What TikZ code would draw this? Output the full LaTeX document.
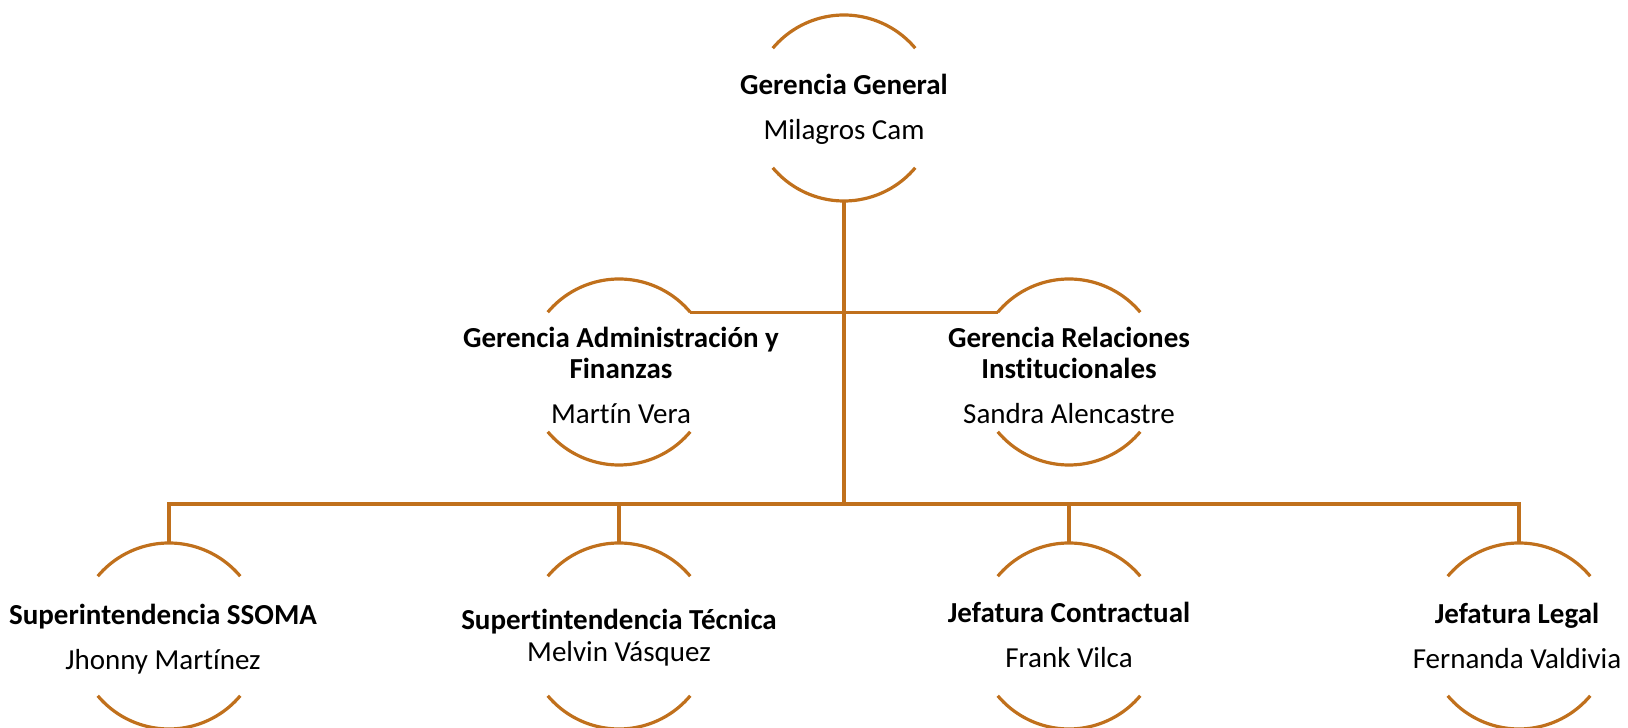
\documentclass[tikz,border=0pt]{standalone}
\usepackage{fontspec}
\setmainfont{Carlito}[Ligatures=NoCommon]
\usepackage{tikz}
\usetikzlibrary{calc}
\definecolor{rimcol}{RGB}{192,112,28}
\tikzset{
  ring/.style={circle, minimum size=186pt, inner sep=0pt, outer sep=0pt},
  lbl/.style={align=center, inner sep=0pt, font=\fontsize{29}{31}\selectfont},
  rim/.style={draw=rimcol, line width=3.2pt},
  link/.style={draw=rimcol, line width=3.2pt}
}
% upper and lower arc of a unit
\newcommand{\rimarcs}[1]{%
  \draw[rim] (#1.40) arc[start angle=40, end angle=140, radius=93pt];
  \draw[rim] (#1.-140) arc[start angle=-140, end angle=-40, radius=93pt];}

\begin{document}
\begin{tikzpicture}[x=1pt,y=1pt]
    \useasboundingbox (0,0) rectangle (1628,728);
    % Units
    \node[ring] (gg) at (844, 620) {};
    \node[ring] (adm) at (619, 356) {};
    \node[ring] (rel) at (1069, 356) {};
    \node[ring] (sso) at (169, 92) {};
    \node[ring] (tec) at (619, 92) {};
    \node[ring] (con) at (1069, 92) {};
    \node[ring] (leg) at (1519, 92) {};
    \rimarcs{gg} \rimarcs{adm} \rimarcs{rel}
    \rimarcs{sso} \rimarcs{tec} \rimarcs{con} \rimarcs{leg}
    %
    % Labels
    \node[lbl] (gg-t) at ($(gg)+(0,-1)$) {\textbf{Gerencia General}\\[14pt]Milagros Cam};
    \node[lbl] (adm-t) at ($(adm)+(2,-3)$) {\textbf{Gerencia Administración y}\\\textbf{Finanzas}\\[14pt]Martín Vera};
    \node[lbl] (rel-t) at ($(rel)+(0,-3)$) {\textbf{Gerencia Relaciones}\\\textbf{Institucionales}\\[14pt]Sandra Alencastre};
    \node[lbl] (sso-t) at ($(sso)+(-6,-3)$) {\textbf{Superintendencia SSOMA}\\[14pt]Jhonny Martínez};
    \node[lbl] (tec-t) at ($(tec)+(0,-2)$) {\textbf{Supertintendencia Técnica}\\[1pt]Melvin Vásquez};
    \node[lbl] (con-t) at ($(con)+(0,1)$) {\textbf{Jefatura Contractual}\\[14pt]Frank Vilca};
    \node[lbl] (leg-t) at ($(leg)+(-2,0)$) {\textbf{Jefatura Legal}\\[14pt]Fernanda Valdivia};
    %
    % Connectors
    \coordinate (bus) at (844, 224);
    \draw[link] (gg.south) -- (bus);
    \draw[link] (adm.40) -- (rel.140);
    \draw[link] (sso.north) |- (bus) -| (leg.north);
    \draw[link] (tec.north) -- (tec.north |- bus);
    \draw[link] (con.north) -- (con.north |- bus);
\end{tikzpicture}
\end{document}
